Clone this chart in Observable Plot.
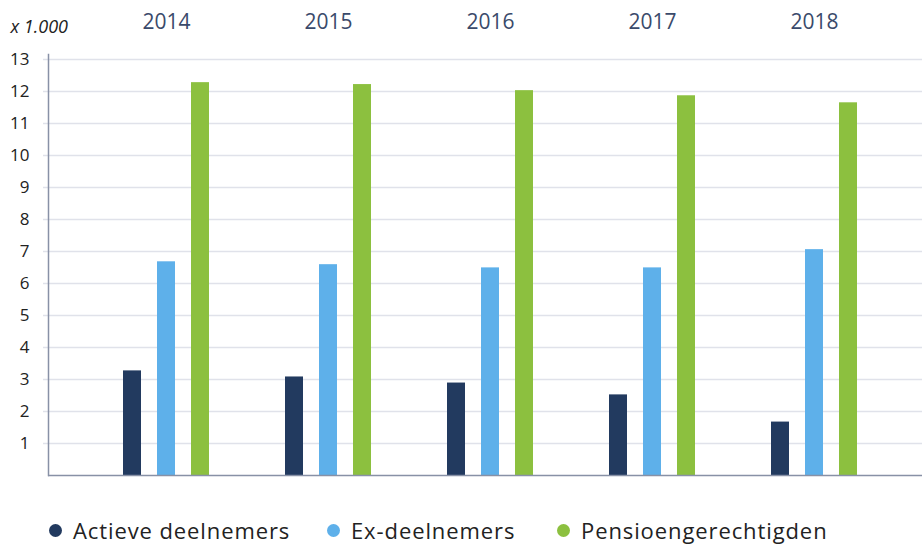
<!DOCTYPE html>
<html><head><meta charset="utf-8">
<script src="https://cdn.jsdelivr.net/npm/d3@7"></script>
<script src="https://cdn.jsdelivr.net/npm/@observablehq/plot@0.6"></script>
<style>
body{margin:0;background:#fff;font-family:"Open Sans",sans-serif;}
#legend{position:relative;height:40px;margin-top:20px;font-size:22px;color:#222;letter-spacing:0.9px}
#legend .item{display:flex;align-items:center;position:absolute;top:0;height:40px}
#legend .dot{width:13px;height:13px;border-radius:50%;margin-right:11px}
</style></head>
<body>
<div id="chart"></div>
<div id="legend"></div>
<script>
const years = ["2014","2015","2016","2017","2018"];
const series = ["Actieve deelnemers","Ex-deelnemers","Pensioengerechtigden"];
const actieve = [3.27, 3.08, 2.89, 2.52, 1.67];
const ex = [6.68, 6.59, 6.49, 6.49, 7.06];
const pensioen = [12.28, 12.22, 12.03, 11.87, 11.65];
const yTicks = [1,2,3,4,5,6,7,8,9,10,11,12,13];
const colors = ["#223a5f","#5eb0ea","#8cc03f"];
const unitLabel = "x 1.000";

const values = [actieve, ex, pensioen];
const data = [];
series.forEach((s, i) => years.forEach((y, j) => data.push({year: y, series: s, idx: i, value: values[i][j]})));

const insets = [[38,106],[72,72],[106,38]];

const plot = Plot.plot({
  width: 922, height: 490,
  marginLeft: 48, marginRight: 0, marginTop: 54, marginBottom: 15,
  style: {fontFamily: "'Open Sans', sans-serif", background: "#fff"},
  x: {domain: years, range: [85, 895], padding: 0, axis: null},
  y: {domain: [0, 13.16], axis: null},
  marks: [
    Plot.ruleY(yTicks, {stroke: "#e0e2ea", strokeWidth: 1.5, insetLeft: -5}),
    Plot.axisY(yTicks, {tickSize: 0, tickPadding: 19, fontSize: 17, fill: "#222", label: null}),
    ...series.map((s, i) => Plot.barY(data.filter(d => d.idx === i), {
      x: "year", y: "value", fill: colors[i], insetLeft: insets[i][0], insetRight: insets[i][1]
    })),
    Plot.ruleY([0], {stroke: "#8891a6", strokeWidth: 1.5}),
    Plot.frame({anchor: "left", stroke: "#8891a6", strokeWidth: 1.5}),
    Plot.axisX({anchor: "top", tickSize: 0, tickPadding: 26, fontSize: 21, fill: "#3a4a6b", label: null}),
    Plot.text([unitLabel], {frameAnchor: "top-left", dx: -38, dy: -34, textAnchor: "start", fontSize: 18, fontStyle: "italic", fontWeight: "normal", fill: "#222"})
  ]
});
document.getElementById("chart").appendChild(plot);

const legend = document.getElementById("legend");
const lx = [49, 327, 557];
series.forEach((s, i) => {
  const it = document.createElement("div");
  it.className = "item";
  it.style.left = lx[i] + "px";
  it.innerHTML = `<span class="dot" style="background:${colors[i]}"></span><span>${s}</span>`;
  legend.appendChild(it);
});
</script>
</body></html>
